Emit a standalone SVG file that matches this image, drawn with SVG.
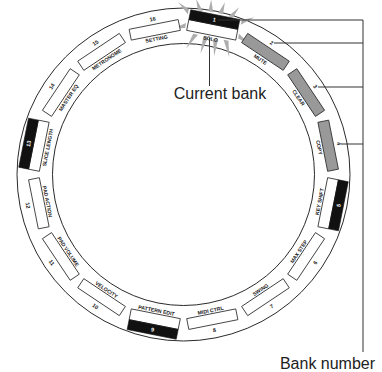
<svg xmlns="http://www.w3.org/2000/svg" width="382" height="372" viewBox="0 0 382 372">
<style>
.ring{fill:none;stroke:#2a2a2a;stroke-width:1}
.box{fill:#fff;stroke:#2a2a2a;stroke-width:0.8}
.gray{fill:#999;stroke:#2a2a2a;stroke-width:0.8}
.bar{fill:#111;stroke:#111;stroke-width:0.6}
.lbl{font-family:"Liberation Sans",Arial,sans-serif;font-size:5.2px;font-weight:bold;fill:#222;text-anchor:middle;dominant-baseline:central}
.num{font-family:"Liberation Sans",Arial,sans-serif;font-size:5.5px;font-weight:bold;fill:#222;text-anchor:middle;dominant-baseline:central}
.numw{font-family:"Liberation Sans",Arial,sans-serif;font-size:5.5px;font-weight:bold;fill:#fff;text-anchor:middle;dominant-baseline:central}
.cap{font-family:"Liberation Sans",Arial,sans-serif;font-size:16px;fill:#222;text-anchor:middle}
.lead{fill:none;stroke:#333;stroke-width:1}
.spike{fill:#adadad}
</style>
<rect width="382" height="372" fill="#fff"/>
<g id="ring">
<circle class="ring" cx="183.5" cy="174.5" r="166.5"/>
<circle class="ring" cx="183.5" cy="174.5" r="131"/>
</g>
<g id="burst" transform="translate(183.5 174.5) rotate(11.25)">
<polygon class="spike" points="-18,-164 -13,-164 -22,-175"/>
<polygon class="spike" points="-7.5,-165 -2.5,-165 -7,-177"/>
<polygon class="spike" points="2.5,-165 7.5,-165 7,-177"/>
<polygon class="spike" points="13,-164 18,-164 22,-175"/>
<polygon class="spike" points="-27,-163 -27,-158 -39,-168"/>
<polygon class="spike" points="-27,-149 -27,-144 -39,-141"/>
<polygon class="spike" points="27,-163 27,-158 39,-168"/>
<polygon class="spike" points="27,-149 27,-144 39,-141"/>
<polygon class="spike" points="-18,-140 -13,-140 -22,-124"/>
<polygon class="spike" points="-7.5,-139 -2.5,-139 -7,-122"/>
<polygon class="spike" points="2.5,-139 7.5,-139 7,-122"/>
<polygon class="spike" points="13,-140 18,-140 22,-124"/>
</g>
<g id="seg1" transform="translate(183.5 174.5) rotate(11.25)">
<rect class="box" x="-25" y="-153" width="50" height="11"/>
<rect class="bar" x="-25" y="-163" width="50" height="10"/>
<text class="lbl" y="-138.5">SOLO</text>
<text class="numw" y="-158">1</text>
</g>
<g id="seg2" transform="translate(183.5 174.5) rotate(33.75)">
<rect class="gray" x="-25" y="-153" width="50" height="11"/>
<text class="lbl" y="-138.5">MUTE</text>
<text class="num" y="-158.5">2</text>
</g>
<g id="seg3" transform="translate(183.5 174.5) rotate(56.25)">
<rect class="gray" x="-25" y="-153" width="50" height="11"/>
<text class="lbl" y="-138.5">CLEAR</text>
<text class="num" y="-158.5">3</text>
</g>
<g id="seg4" transform="translate(183.5 174.5) rotate(78.75)">
<rect class="gray" x="-25" y="-153" width="50" height="11"/>
<text class="lbl" y="-138.5">COPY</text>
<text class="num" y="-158.5">4</text>
</g>
<g id="seg5" transform="translate(183.5 174.5) rotate(-78.75)">
<rect class="box" x="-25" y="142" width="50" height="11"/>
<rect class="bar" x="-25" y="153" width="50" height="10"/>
<text class="lbl" y="138.5">KEY SHIFT</text>
<text class="numw" y="158">5</text>
</g>
<g id="seg6" transform="translate(183.5 174.5) rotate(-56.25)">
<rect class="box" x="-25" y="142" width="50" height="11"/>
<text class="lbl" y="138.5">MAX STEP</text>
<text class="num" y="158.5">6</text>
</g>
<g id="seg7" transform="translate(183.5 174.5) rotate(-33.75)">
<rect class="box" x="-25" y="142" width="50" height="11"/>
<text class="lbl" y="138.5">SWING</text>
<text class="num" y="158.5">7</text>
</g>
<g id="seg8" transform="translate(183.5 174.5) rotate(-11.25)">
<rect class="box" x="-25" y="142" width="50" height="11"/>
<text class="lbl" y="138.5">MIDI CTRL</text>
<text class="num" y="158.5">8</text>
</g>
<g id="seg9" transform="translate(183.5 174.5) rotate(11.25)">
<rect class="box" x="-25" y="142" width="50" height="11"/>
<rect class="bar" x="-25" y="153" width="50" height="10"/>
<text class="lbl" y="138.5">PATTERN EDIT</text>
<text class="numw" y="158">9</text>
</g>
<g id="seg10" transform="translate(183.5 174.5) rotate(33.75)">
<rect class="box" x="-25" y="142" width="50" height="11"/>
<text class="lbl" y="138.5">VELOCITY</text>
<text class="num" y="158.5">10</text>
</g>
<g id="seg11" transform="translate(183.5 174.5) rotate(56.25)">
<rect class="box" x="-25" y="142" width="50" height="11"/>
<text class="lbl" y="138.5">PAD VOLUME</text>
<text class="num" y="158.5">11</text>
</g>
<g id="seg12" transform="translate(183.5 174.5) rotate(78.75)">
<rect class="box" x="-25" y="142" width="50" height="11"/>
<text class="lbl" y="138.5">PAD ACTION</text>
<text class="num" y="158.5">12</text>
</g>
<g id="seg13" transform="translate(183.5 174.5) rotate(-78.75)">
<rect class="box" x="-25" y="-153" width="50" height="11"/>
<rect class="bar" x="-25" y="-163" width="50" height="10"/>
<text class="lbl" y="-138.5">SLICE LENGTH</text>
<text class="numw" y="-158">13</text>
</g>
<g id="seg14" transform="translate(183.5 174.5) rotate(-56.25)">
<rect class="box" x="-25" y="-153" width="50" height="11"/>
<text class="lbl" y="-138.5">MASTER EQ</text>
<text class="num" y="-158.5">14</text>
</g>
<g id="seg15" transform="translate(183.5 174.5) rotate(-33.75)">
<rect class="box" x="-25" y="-153" width="50" height="11"/>
<text class="lbl" y="-138.5">METRONOME</text>
<text class="num" y="-158.5">15</text>
</g>
<g id="seg16" transform="translate(183.5 174.5) rotate(-11.25)">
<rect class="box" x="-25" y="-153" width="50" height="11"/>
<text class="lbl" y="-138.5">SETTING</text>
<text class="num" y="-158.5">16</text>
</g>
<g id="connectors">
<line class="lead" x1="209.5" y1="38" x2="209.5" y2="86"/>
<polyline class="lead" points="218,20 363,20 363,352"/>
<line class="lead" x1="274" y1="43" x2="363" y2="43"/>
<line class="lead" x1="318" y1="87" x2="363" y2="87"/>
<line class="lead" x1="341" y1="144" x2="363" y2="144"/>
</g>
<g id="captions">
<text class="cap" x="220" y="99">Current bank</text>
<text class="cap" x="327.5" y="369">Bank number</text>
</g>
</svg>
